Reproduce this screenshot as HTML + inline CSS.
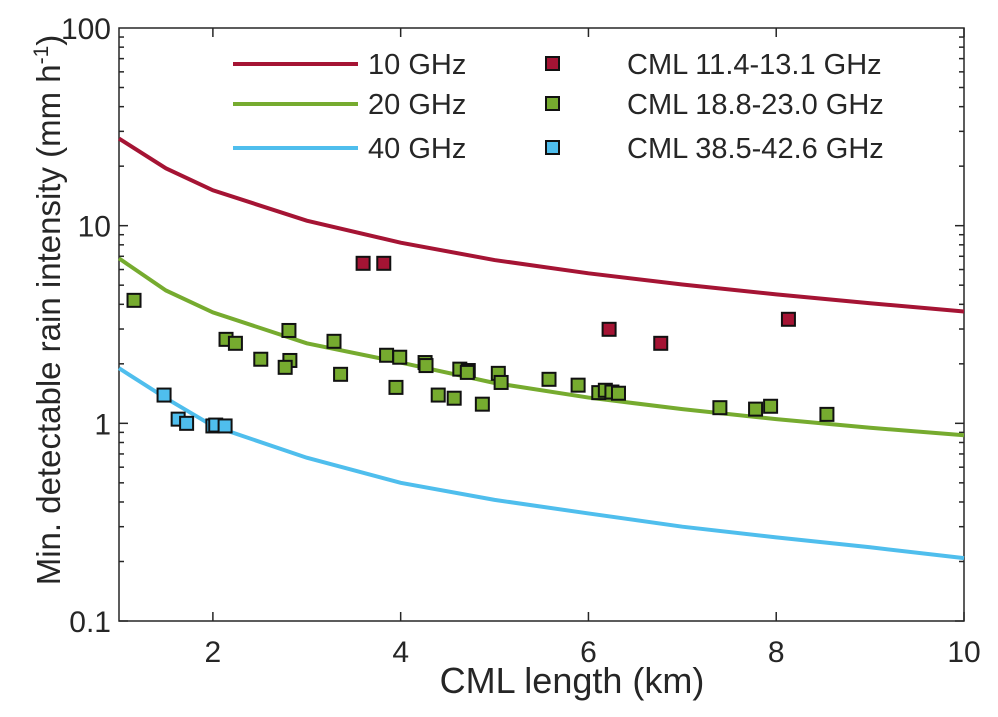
<!DOCTYPE html>
<html><head><meta charset="utf-8"><style>
body{margin:0;background:#fff}
svg{display:block;font-family:"Liberation Sans",sans-serif}
</style></head><body>
<svg id="chart" width="998" height="717"></svg>
<script>
const lineX=[1,1.5,2,3,4,5,6,7,8,9,10];
const line10=[27.6,19.5,15.1,10.6,8.2,6.7,5.74,5.04,4.49,4.05,3.68];
const line20=[6.83,4.7,3.64,2.54,2.03,1.6,1.35,1.18,1.05,0.95,0.87];
const line40=[1.9,1.34,0.97,0.67,0.50,0.41,0.35,0.30,0.265,0.236,0.208];
const redX=[3.6,3.82,6.22,6.77,8.13];
const redY=[6.45,6.45,2.99,2.54,3.36];
const greenX=[1.16,2.14,2.24,2.51,2.82,2.77,2.81,3.29,3.36,3.85,3.99,3.95,4.26,4.27,4.40,4.57,4.63,4.72,4.71,4.87,5.04,5.07,5.58,5.89,6.11,6.18,6.25,6.32,7.40,7.78,7.94,8.54];
const greenY=[4.19,2.66,2.54,2.11,2.08,1.92,2.95,2.6,1.77,2.21,2.16,1.52,2.03,1.96,1.39,1.34,1.88,1.85,1.81,1.25,1.79,1.61,1.67,1.56,1.43,1.47,1.44,1.42,1.20,1.18,1.22,1.11];
const blueX=[1.48,1.63,1.72,2.0,2.03,2.13];
const blueY=[1.39,1.05,1.0,0.97,0.98,0.97];
const xTicks=[2,4,6,8,10];
const yTicks=[0.1,1,10,100];
const yTickLabels=["0.1","1","10","100"];

const L=119,R=964,T=28,B=621;
const sx=v=>L+(v-1)/9*(R-L);
const sy=v=>B-(Math.log10(v)+1)/3*(B-T);
const svg=document.getElementById('chart');
const NS='http://www.w3.org/2000/svg';
function mk(tag,a,parent){const e=document.createElementNS(NS,tag);for(const k in a)e.setAttribute(k,a[k]);(parent||svg).appendChild(e);return e;}

const axes=mk('g',{});


const frame=mk('rect',{x:L,y:T,width:R-L,height:B-T,fill:'none',stroke:'#262626','stroke-width':1.5},axes);


xTicks.forEach(v=>{
  const x=sx(v);
  mk('line',{x1:x,x2:x,y1:B,y2:B-9,stroke:'#262626','stroke-width':1.5},axes);
  mk('line',{x1:x,x2:x,y1:T,y2:T+9,stroke:'#262626','stroke-width':1.5},axes);
  const t=mk('text',{x:x,y:B+41,'text-anchor':'middle','font-size':30,fill:'#262626'},axes);
  t.textContent=v;
  
  
});
for(let d=-1;d<2;d++){
  for(let m=1;m<10;m++){
    const y=sy(m*Math.pow(10,d));const len=m===1?9:5;
    mk('line',{x1:L,x2:L+len,y1:y,y2:y,stroke:'#262626','stroke-width':1.5},axes);
    mk('line',{x1:R,x2:R-len,y1:y,y2:y,stroke:'#262626','stroke-width':1.5},axes);
  }
}
yTicks.forEach((v,i)=>{
  const t=mk('text',{x:L-8,y:sy(v)+11,'text-anchor':'end','font-size':30,fill:'#262626'},axes);
  t.textContent=yTickLabels[i];
  
  
});
const xt=mk('text',{x:572,y:693,'text-anchor':'middle','font-size':36,fill:'#262626'});
xt.textContent='CML length (km)';


const yt=mk('text',{transform:'translate(60,310) rotate(-90)','text-anchor':'middle','font-size':33,fill:'#262626'});
yt.innerHTML='Min. detectable rain intensity (mm h<tspan dy="-12" font-size="21">-1</tspan><tspan dy="12">)</tspan>';



function drawLine(ys,col,name){
  const p=lineX.map((x,i)=>sx(x)+','+sy(ys[i])).join(' ');
  const e=mk('polyline',{points:p,fill:'none',stroke:col,'stroke-width':4});
  
  
}
drawLine(line10,'#a51434','line-10ghz');
drawLine(line20,'#76ab2f','line-20ghz');
drawLine(line40,'#4fbeed','line-40ghz');
function drawPts(xs,ys,col,name){
  xs.forEach((x,i)=>{
    const e=mk('rect',{x:sx(x)-6.5,y:sy(ys[i])-6.5,width:13,height:13,fill:col,stroke:'#111','stroke-width':2});
    
    
  });
}
drawPts(greenX,greenY,'#76ab2f','cml-18-23ghz-point');
drawPts(redX,redY,'#a51434','cml-11-13ghz-point');
drawPts(blueX,blueY,'#4fbeed','cml-38-42ghz-point');

const leg=[['10 GHz','#a51434','CML 11.4-13.1 GHz',64],['20 GHz','#76ab2f','CML 18.8-23.0 GHz',104],['40 GHz','#4fbeed','CML 38.5-42.6 GHz',148]];
const lg=mk('g',{});


leg.forEach(l=>{
  const y=l[3];
  const a=mk('line',{x1:233,x2:358,y1:y,y2:y,stroke:l[1],'stroke-width':4},lg);
  
  
  const t=mk('text',{x:368,y:y+10,'font-size':29,fill:'#262626'},lg);t.textContent=l[0];
  
  
  const r=mk('rect',{x:546,y:y-7,width:13,height:13,fill:l[1],stroke:'#111','stroke-width':2},lg);
  
  
  const t2=mk('text',{x:627,y:y+10,'font-size':29,fill:'#262626'},lg);t2.textContent=l[2];
  
  
});
</script>
</body></html>
